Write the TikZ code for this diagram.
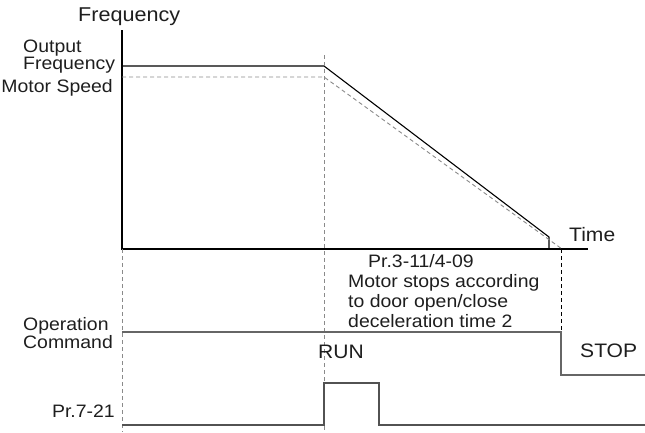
\documentclass[tikz,border=0pt]{standalone}
\usepackage{fontspec}
\setmainfont{Liberation Sans}[FakeStretch=1.08]
\definecolor{txtgray}{HTML}{1E1E1E}
\definecolor{dashgray}{HTML}{8A8A8A}
\definecolor{siggray}{HTML}{666666}
\begin{document}
\begin{tikzpicture}[x=1pt, y=-1pt,
  lbl/.style={inner sep=0pt, text=txtgray, font=\fontsize{18}{20}\selectfont},
  biglbl/.style={lbl, font=\fontsize{19.5}{22}\selectfont},
  guide/.style={dashgray, line width=0.9pt, dash pattern=on 4pt off 3pt},
  signal/.style={siggray, line width=1.4pt}]
\useasboundingbox (0,0) rectangle (645,432);
% Axes
\coordinate (top) at (122,30);
\coordinate (org) at (122,249);
\coordinate (tend) at (588,249);
\draw[line width=2.2pt, black] (top) -- (org) -- (tend);
\node[lbl, anchor=base west, font=\fontsize{20}{22}\selectfont] (freqtitle) at (78,21) {Frequency};
\node[biglbl, anchor=base west] (timelbl) at (569,241) {Time};
% Output frequency
\coordinate (of0) at (122,66);
\coordinate (of1) at (324,66);
\coordinate (of2) at (549,237);
\coordinate (of3) at (549,249);
\draw[line width=1.1pt, black] (of0) -- (of1) -- (of2) -- (of3);
\node[lbl, anchor=base west] (outlbl) at (23,52) {Output};
\node[lbl, anchor=base west] (outlblb) at (23,69) {Frequency};
% Motor speed
\coordinate (ms0) at (122,77);
\coordinate (ms1) at (324,77);
\coordinate (ms2) at (562,249);
\draw[guide] (ms0) -- (ms1) -- (ms2);
\node[lbl, anchor=base east] (mslbl) at (113,92) {Motor Speed};
% Guide lines
\coordinate (ga) at (122,432);
\coordinate (gb0) at (324,55);
\coordinate (gb1) at (324,432);
\coordinate (gc0) at (561,249);
\coordinate (gc1) at (561,332);
\draw[guide] (org) -- (ga);
\draw[guide] (gb0) -- (gb1);
\draw[black, line width=0.9pt, dash pattern=on 4pt off 3pt] (gc0) -- (gc1);
% Deceleration note
\node[lbl, anchor=base west] (prnote) at (368,267) {Pr.3-11/4-09};
\node[lbl, anchor=base west] (notea) at (348,287) {Motor stops according};
\node[lbl, anchor=base west] (noteb) at (348,307) {to door open/close};
\node[lbl, anchor=base west] (notec) at (348,327) {deceleration time 2};
% Operation command
\coordinate (oc0) at (122,332);
\coordinate (oc2) at (561,375);
\coordinate (oc3) at (645,375);
\draw[signal] (oc0) -- (gc1) -- (oc2) -- (oc3);
\node[lbl, anchor=base west] (oplbl) at (23,330) {Operation};
\node[lbl, anchor=base west] (oplblb) at (23,348) {Command};
\node[biglbl, anchor=base west] (runlbl) at (318,358) {RUN};
\node[biglbl, anchor=base west] (stoplbl) at (580,357) {STOP};
% Pr.7-21
\coordinate (pr0) at (122,425);
\coordinate (pr1) at (324,425);
\coordinate (pr2) at (324,383);
\coordinate (pr3) at (379,383);
\coordinate (pr4) at (379,425);
\coordinate (pr5) at (645,425);
\draw[signal, siggray!80!black] (pr0) -- (pr1) -- (pr2) -- (pr3) -- (pr4) -- (pr5);
\node[lbl, anchor=base east] (prlbl) at (115,417) {Pr.7-21};
\end{tikzpicture}
\end{document}
